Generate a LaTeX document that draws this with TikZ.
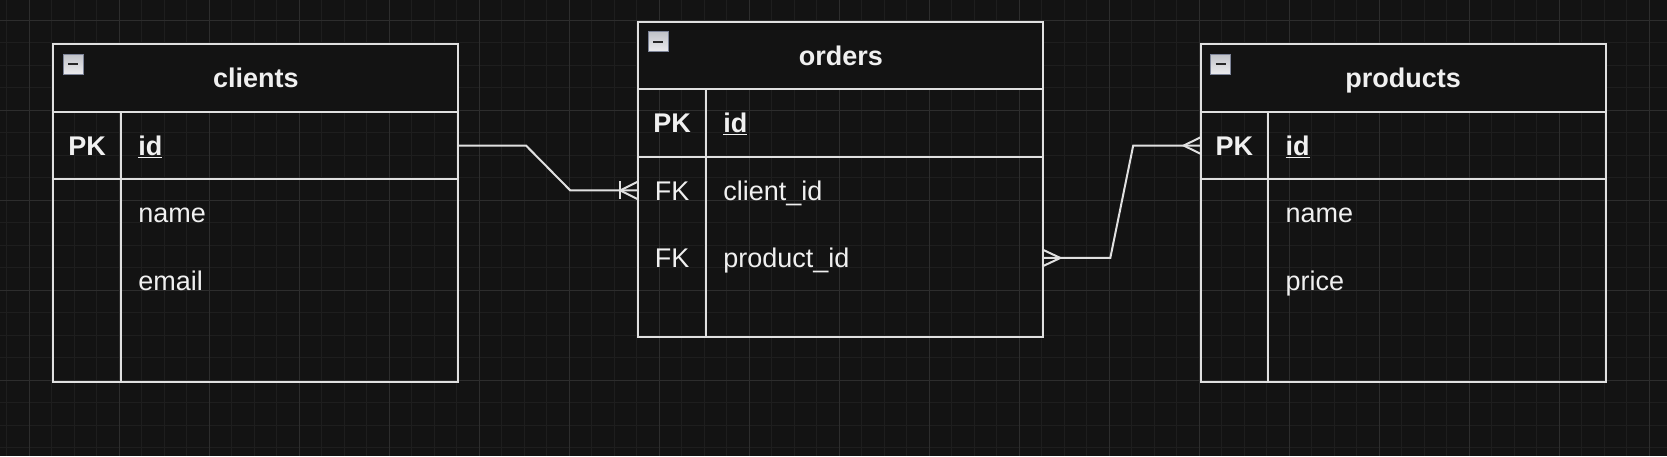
\documentclass[tikz,border=0pt]{standalone}
\usepackage{fontspec}
\setmainfont{Liberation Sans}
\usetikzlibrary{positioning}
\definecolor{bgc}{RGB}{19,19,19}
\definecolor{gridminor}{RGB}{30,30,30}
\definecolor{gridmajor}{RGB}{45,45,45}
\definecolor{linec}{RGB}{224,224,224}
\definecolor{txtc}{RGB}{240,240,240}
\definecolor{iconedge}{RGB}{125,132,152}
\definecolor{icontop}{RGB}{192,194,200}
\definecolor{iconbot}{RGB}{236,236,238}

\begin{document}
\begin{tikzpicture}[x=1pt,y=-1pt,
  every node/.style={font=\fontsize{27}{32}\selectfont,text=txtc,text height=19.5pt,text depth=0pt,outer sep=0pt},
  tblhead/.style={draw=linec,line width=2pt,fill=bgc,minimum width=405pt,minimum height=67.5pt,
    font=\fontsize{27}{32}\selectfont\bfseries,anchor=north west},
  keycell/.style={minimum width=67.5pt,minimum height=67.5pt,inner sep=0pt},
  fieldcell/.style={minimum height=67.5pt,text width=302.5pt,inner xsep=17.5pt,inner ysep=0pt,align=left},
  boxed/.style={draw=linec,line width=2pt},
  keyfont/.style={font=\fontsize{27}{32}\selectfont\bfseries},
  collapse/.style={draw=iconedge,line width=1.5pt,top color=icontop,bottom color=iconbot,
    minimum size=20pt,inner sep=0pt,anchor=north west,
    path picture={\draw[black!85,line width=2.2pt] ([xshift=5pt]path picture bounding box.west)
      -- ([xshift=-5pt]path picture bounding box.east);}},
  rel/.style={draw=linec,line width=2pt},
  gridline/.style={draw=gridminor,line width=1pt},
  majorline/.style={draw=gridmajor,line width=1pt}]

  % canvas and grid
  \useasboundingbox (0,0) rectangle (1667,456);
  \fill[bgc] (0,0) rectangle (1667,456);
  \foreach \x in {6.7,29.2,...,1667} \draw[gridline] (\x,0) -- (\x,456);
  \foreach \y in {20,42.5,...,456} \draw[gridline] (0,\y) -- (1667,\y);
  \foreach \x in {29.2,119.2,...,1667} \draw[majorline] (\x,0) -- (\x,456);
  \foreach \y in {20,110,...,456} \draw[majorline] (0,\y) -- (1667,\y);

  % clients
  \node[tblhead] (cl) at (53.3,44.3) {clients};
  \node[collapse] (cl-x) at ([xshift=10pt,yshift=-10pt]cl.north west) {};
  \node[keycell,boxed,keyfont,anchor=north west] (cl-pk) at (cl.south west) {PK};
  \node[fieldcell,boxed,keyfont,right=0pt of cl-pk] (cl-id) {\underline{id}};
  \node[fieldcell,below=0pt of cl-id] (cl-name) {name};
  \node[fieldcell,below=0pt of cl-name] (cl-email) {email};
  \node[fieldcell,below=0pt of cl-email] (cl-end) {};
  \draw[rel] (cl-pk.south west) rectangle (cl-end.south east);
  \draw[rel] (cl-pk.south east) -- (cl-pk.south east |- cl-end.south);

  % orders
  \node[tblhead] (or) at (638.3,21.7) {orders};
  \node[collapse] (or-x) at ([xshift=10pt,yshift=-10pt]or.north west) {};
  \node[keycell,boxed,keyfont,anchor=north west] (or-pk) at (or.south west) {PK};
  \node[fieldcell,boxed,keyfont,right=0pt of or-pk] (or-id) {\underline{id}};
  \node[fieldcell,below=0pt of or-id] (or-cid) {client\_id};
  \node[keycell,left=0pt of or-cid] (or-fk1) {FK};
  \node[fieldcell,below=0pt of or-cid] (or-pid) {product\_id};
  \node[keycell,left=0pt of or-pid] (or-fk2) {FK};
  \node[fieldcell,below=0pt of or-pid,minimum height=45pt] (or-end) {};
  \draw[rel] (or-pk.south west) rectangle (or-end.south east);
  \draw[rel] (or-pk.south east) -- (or-pk.south east |- or-end.south);

  % products
  \node[tblhead] (pr) at (1200.7,44.3) {products};
  \node[collapse] (pr-x) at ([xshift=10pt,yshift=-10pt]pr.north west) {};
  \node[keycell,boxed,keyfont,anchor=north west] (pr-pk) at (pr.south west) {PK};
  \node[fieldcell,boxed,keyfont,right=0pt of pr-pk] (pr-id) {\underline{id}};
  \node[fieldcell,below=0pt of pr-id] (pr-name) {name};
  \node[fieldcell,below=0pt of pr-name] (pr-price) {price};
  \node[fieldcell,below=0pt of pr-price] (pr-end) {};
  \draw[rel] (pr-pk.south west) rectangle (pr-end.south east);
  \draw[rel] (pr-pk.south east) -- (pr-pk.south east |- pr-end.south);

  % clients -> orders, one to many
  \draw[rel] (cl-id.east) -- ++(67.7,0) -- ([xshift=-68pt]or-fk1.west) -- (or-fk1.west);
  \draw[rel] ([yshift=9pt]or-fk1.west) -- ([xshift=-18pt]or-fk1.west) -- ([yshift=-9pt]or-fk1.west);
  \draw[rel] ([xshift=-18pt,yshift=9pt]or-fk1.west) -- ([xshift=-18pt,yshift=-9pt]or-fk1.west);

  % orders -> products, many to many
  \draw[rel] (or-pid.east) -- ++(67,0) -- ([xshift=-67.5pt]pr-pk.west) -- (pr-pk.west);
  \draw[rel] ([yshift=8pt]or-pid.east) -- ([xshift=17pt]or-pid.east) -- ([yshift=-8pt]or-pid.east);
  \draw[rel] ([yshift=8.3pt]pr-pk.west) -- ([xshift=-17pt]pr-pk.west) -- ([yshift=-8.3pt]pr-pk.west);
\end{tikzpicture}
\end{document}
